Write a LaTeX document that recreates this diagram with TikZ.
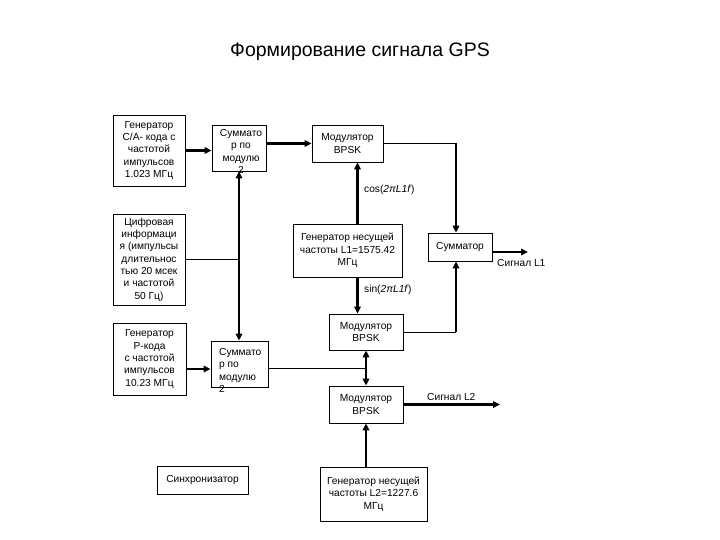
\documentclass[tikz,border=0pt]{standalone}
\usepackage{fontspec}
\setmainfont{Liberation Sans}
\usetikzlibrary{arrows.meta}
\begin{document}
\begin{tikzpicture}[x=1pt,y=-1pt,
  blk/.style={draw,line width=0.8pt,inner sep=0pt,align=center,font=\fontsize{10.2}{12.3}\selectfont},
  lbl/.style={inner sep=0pt,font=\fontsize{10.2}{12.3}\selectfont},
  lnk/.style={line width=0.8pt},
  bus/.style={line width=2.2pt,-{Triangle[length=7pt,width=6.5pt]}},
  bus2/.style={line width=2.2pt,{Triangle[length=7pt,width=6.5pt]}-{Triangle[length=7pt,width=6.5pt]}}]
%\draw[step=20pt,gray,very thin] (0,0) grid (720,540);
\useasboundingbox (0,0) rectangle (720,540);
\node[lbl,font=\fontsize{19.5}{22}\selectfont] (title) at (360,52) {Формирование сигнала GPS};
\node[blk,minimum width=72pt,minimum height=71pt] (gca) at (149,150.5) {Генератор\\C/A- кода с\\частотой\\импульсов\\1.023 МГц};
\node[blk,minimum width=54pt,minimum height=46pt] (sumA) at (239,148) {};
\node[lbl,align=center] (sumAt) at (241,151.5) {Суммато\\р по\\модулю\\2};
\node[blk,minimum width=71pt,minimum height=37pt] (modA) at (347.5,143.5) {Модулятор\\BPSK};
\node[blk,minimum width=109pt,minimum height=53pt] (genL1) at (347.5,250.5) {Генератор несущей\\частоты L1=1575.42\\МГц};
\node[blk,minimum width=64pt,minimum height=28pt] (summ) at (460,247) {Сумматор};
\node[blk,minimum width=72pt,minimum height=91pt] (dig) at (149,259.5) {Цифровая\\информаци\\я (импульсы\\длительнос\\тью 20 мсек\\и частотой\\50 Гц)};
\node[blk,minimum width=73pt,minimum height=72pt] (genP) at (149.5,359) {Генератор\\Р-кода\\с частотой\\импульсов\\10.23 МГц};
\node[blk,minimum width=57pt,minimum height=46pt] (sumB) at (239.5,364) {};
\node[lbl,align=left,anchor=west] (sumBt) at (219,370.5) {Суммато\\р по\\модулю\\2};
\node[blk,minimum width=74pt,minimum height=36pt] (modB) at (366,332) {Модулятор\\BPSK};
\node[blk,minimum width=74pt,minimum height=37pt] (modC) at (366,404.5) {Модулятор\\BPSK};
\node[blk,minimum width=91pt,minimum height=28pt] (sync) at (202.5,480) {Синхронизатор};
\node[blk,minimum width=107pt,minimum height=54pt] (genL2) at (373.5,494) {Генератор несущей\\частоты L2=1227.6\\МГц};
\node[lbl,anchor=west] (cosl) at (364,190) {cos(\textit{2πL1f})};
\node[lbl,anchor=west] (sinl) at (364,290) {sin(\textit{2πL1f})};
\node[lbl,anchor=west] (sigA) at (497,263) {Сигнал L1};
\node[lbl,anchor=west] (sigB) at (427,397) {Сигнал L2};
\coordinate (c1) at (456,143.5);
\coordinate (c2) at (456,332);
\coordinate (c3) at (528,252);
\coordinate (c4) at (366,368);
\coordinate (c5) at (500,404.5);
\draw[bus] (gca.east) -- (gca.east -| sumA.west);
\draw[bus] (sumA.east |- modA.west) -- (modA.west);
\draw[lnk] (modA.east) -- (c1);
\draw[bus] (c1) -- (c1 |- summ.north);
\draw[bus] ([xshift=10pt]genL1.north) -- ([xshift=10pt]genL1.north |- modA.south);
\draw[bus] ([xshift=10pt]genL1.south) -- ([xshift=10pt]genL1.south |- modB.north);
\draw[lnk] (modB.east) -- (c2);
\draw[bus] (c2) -- (c2 |- summ.south);
\draw[bus] (summ.east |- c3) -- (c3);
\draw[lnk] (dig.east) -- (dig.east -| sumA.south);
\draw[bus2] (sumA.south) -- (sumA.south |- sumB.north);
\draw[bus] ([yshift=-10pt]genP.east) -- ([yshift=-10pt]genP.east -| sumB.west);
\draw[lnk] (sumB.east |- c4) -- (c4);
\draw[bus2] (modB.south) -- (modC.north);
\draw[bus] (modC.south |- genL2.north) -- (modC.south);
\draw[bus] (modC.east) -- (c5);
\end{tikzpicture}
\end{document}
